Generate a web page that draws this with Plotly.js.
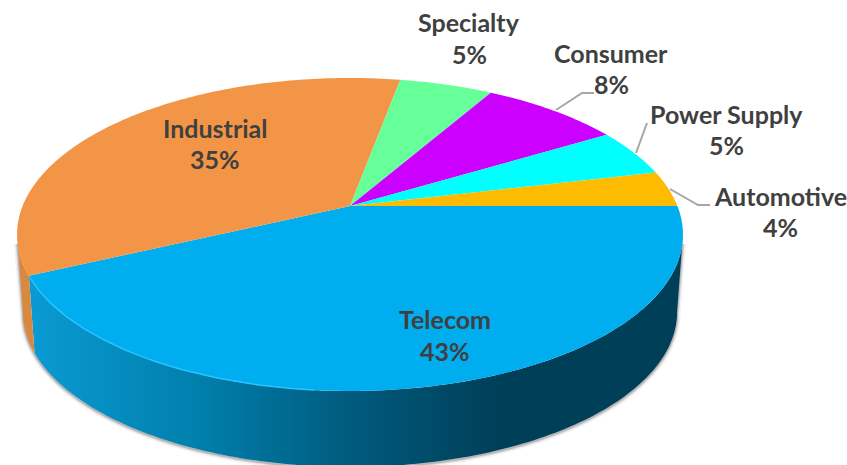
<!DOCTYPE html>
<html><head><meta charset="utf-8">
<script src="https://cdn.plot.ly/plotly-3.0.1.min.js"></script>
<style>html,body{margin:0;padding:0;background:#fff;overflow:hidden}#c{width:847px;height:465px}</style>
</head><body><div id="c"></div>
<script>
// Data, clockwise from the 3 o'clock position
const categories = ['Telecom','Industrial','Specialty','Consumer','Power Supply','Automotive'];
const shares = [43,34.9,5.4,8.1,4.9,3.7];
const sliceColors = ['#00adef','#f39547','#66ff99','#cc00ff','#00ffff','#ffbb00'];

// Label placement (name line and value line centres)
const labelX = [445,215,469,611,726,780];
const nameY  = [319,128,22,53,114,196];
const valueY = [351,159,54,84,145,227];

// Leader lines
const leaders = [
  {x:[556,582,594], y:[110,93,93]},
  {x:[636,647], y:[153,123]},
  {x:[670,698,710], y:[189,205,205]}
];

// Perspective disc geometry
const P = 0.182;
const topFace = {cx:350, cy:206, A:327.4, B:151.3};
const baseFace = {cx:350, cy:284, A:321.6, B:149.7};
const tangent = Math.asin(P)*180/Math.PI;

function pt(f, deg){
  const t = deg*Math.PI/180, u = Math.cos(t), v = Math.sin(t), w = 1+P*v;
  return [f.cx + f.A*u/w, f.cy - f.B*v/w];
}
function arc(f, a, b){
  const out = [], n = Math.max(2, Math.ceil(Math.abs(b-a)));
  for(let i=0;i<=n;i++) out.push(pt(f, a+(b-a)*i/n));
  return out;
}
function xy(points){ return {x:points.map(p=>p[0]), y:points.map(p=>p[1])}; }

// Slice angles
const edges = [0];
shares.forEach((s,i)=>edges.push(edges[i]-s*3.6));

const traces = [];
// Soft shadow under the base
[[7,'rgba(0,0,0,0.05)'],[4,'rgba(0,0,0,0.10)'],[2,'rgba(0,0,0,0.16)']].forEach(s=>{
  const pts = [pt(topFace,-tangent-3)].concat(arc(baseFace,-tangent,-180+tangent)).concat([pt(topFace,-180+tangent+3)]);
  traces.push({...xy(pts.map(p=>[p[0],p[1]+1])),type:'scatter',mode:'lines',line:{color:s[1],width:s[0],simplify:false},hoverinfo:'skip',showlegend:false});
});
// Side walls
const telecomWall = arc(topFace,-tangent,edges[1]).concat(arc(baseFace,edges[1],-tangent));
traces.push({...xy(telecomWall),type:'scatter',mode:'lines',fill:'toself',line:{width:0,simplify:false},
  fillgradient:{type:'horizontal',start:30,stop:680,colorscale:[[0,'#0a9ad2'],[0.1,'#0690c4'],[0.26,'#007fac'],[0.49,'#005b7e'],[0.72,'#003f58'],[1,'#003f58']]},
  hoverinfo:'skip',showlegend:false});
const industrialWall = arc(topFace,edges[1],-180+tangent).concat(arc(baseFace,-180+tangent,edges[1]));
traces.push({...xy(industrialWall),type:'scatter',mode:'lines',fill:'toself',line:{width:0,simplify:false},fillcolor:'#d98840',hoverinfo:'skip',showlegend:false});
// Top face
categories.forEach((c,i)=>{
  const pts = [[topFace.cx,topFace.cy]].concat(arc(topFace,edges[i],edges[i+1]));
  pts.push([topFace.cx,topFace.cy]);
  traces.push({...xy(pts),type:'scatter',mode:'lines',fill:'toself',fillcolor:sliceColors[i],line:{width:0,simplify:false},name:c,hoverinfo:'name',showlegend:false});
});
// Rim highlight on the front left
traces.push({...xy(arc(topFace,edges[1],-95)),type:'scatter',mode:'lines',line:{color:'#27c4ff',width:1.5},hoverinfo:'skip',showlegend:false});
// Leaders
leaders.forEach(l=>traces.push({x:l.x,y:l.y,type:'scatter',mode:'lines',line:{color:'#a6a6a6',width:2},hoverinfo:'skip',showlegend:false}));

const font = {family:'Lato, "Open Sans", sans-serif',size:25,color:'#404040'};
const annotations = [];
categories.forEach((c,i)=>{
  annotations.push({x:labelX[i],y:nameY[i],xref:'x',yref:'y',text:'<b>'+c+'</b>',showarrow:false,font,xanchor:'center',yanchor:'middle'});
  annotations.push({x:labelX[i],y:valueY[i],xref:'x',yref:'y',text:'<b>'+Math.round(shares[i])+'%</b>',showarrow:false,font,xanchor:'center',yanchor:'middle'});
});

Plotly.newPlot('c',traces,{
  width:847,height:465,margin:{l:0,r:0,t:0,b:0},paper_bgcolor:'#fff',plot_bgcolor:'#fff',showlegend:false,
  xaxis:{range:[0,847],visible:false,fixedrange:true},
  yaxis:{range:[465,0],visible:false,fixedrange:true},
  annotations
},{displayModeBar:false,staticPlot:true});
</script></body></html>
